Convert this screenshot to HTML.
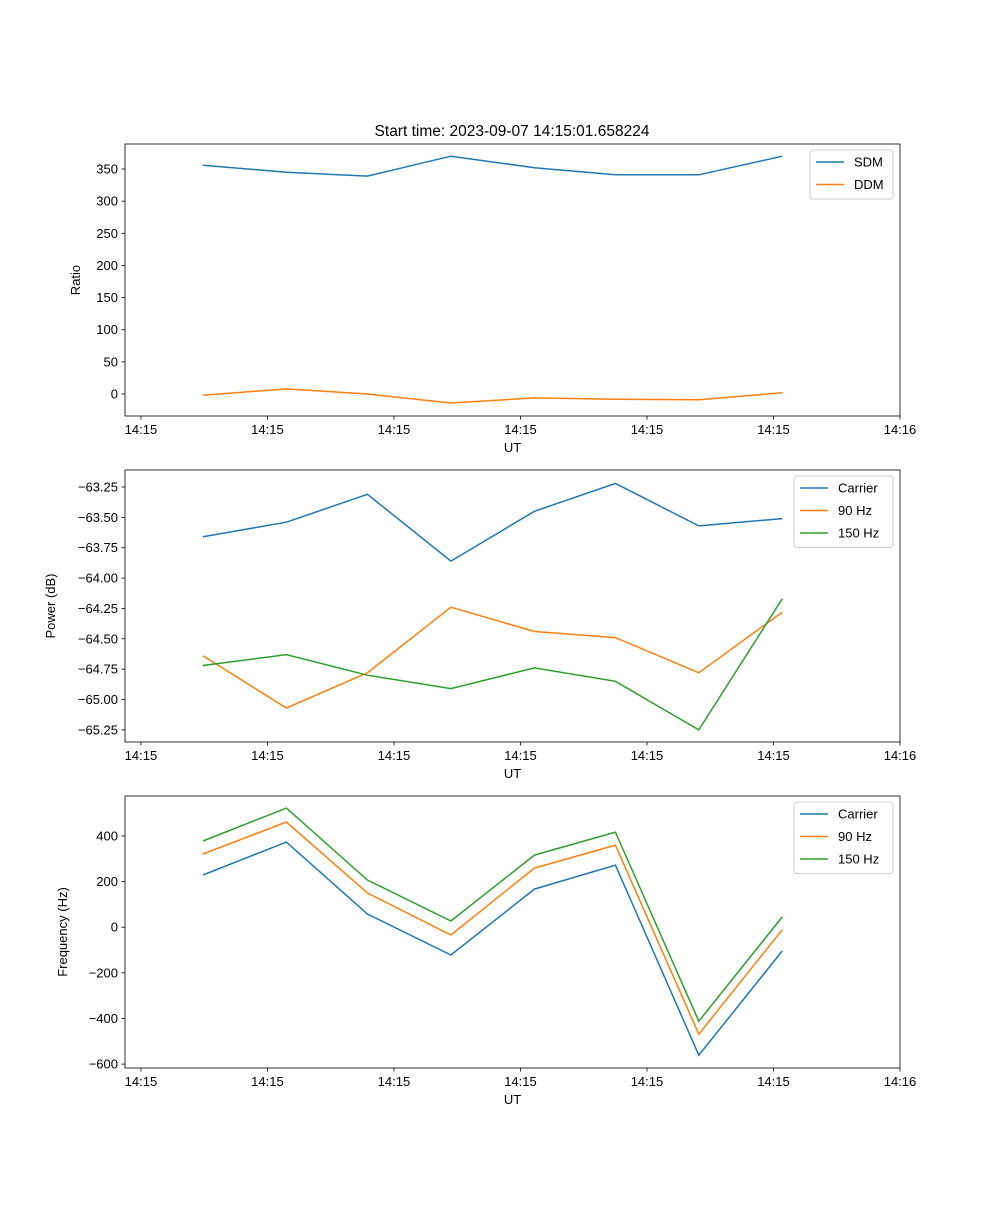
<!DOCTYPE html>
<html><head><meta charset="utf-8"><style>
body{margin:0;background:#fff;}
svg text{font-family:"Liberation Sans","DejaVu Sans",sans-serif;}
</style></head><body>
<svg id="fig" width="1000" height="1200" xmlns="http://www.w3.org/2000/svg">
<rect width="1000" height="1200" fill="#fff"/>
<text x="512" y="136" font-size="15.5" text-anchor="middle">Start time: 2023-09-07 14:15:01.658224</text>
</svg>
<script>
// time offsets in seconds from 14:15:00
const times = [4.9, 11.5, 17.9, 24.5, 31.1, 37.5, 44.1, 50.7];
const xTickValues = [0, 10, 20, 30, 40, 50, 60];
const xTickLabels = ["14:15","14:15","14:15","14:15","14:15","14:15","14:16"];
const sdm = [356, 345, 339, 370, 352, 341, 341, 370];
const ddm = [-2, 8, 0, -14, -6, -8, -9, 2];
const powCarrier = [-63.66, -63.54, -63.31, -63.86, -63.45, -63.22, -63.57, -63.51];
const pow90 = [-64.64, -65.07, -64.78, -64.24, -64.44, -64.49, -64.78, -64.28];
const pow150 = [-64.72, -64.63, -64.80, -64.91, -64.74, -64.85, -65.25, -64.17];
const freqCarrier = [229, 373, 58, -122, 167, 272, -561, -104];
const freq90 = [321, 461, 150, -34, 259, 360, -469, -11];
const freq150 = [378, 522, 207, 27, 316, 417, -412, 45];
const ratioTicks = [0,50,100,150,200,250,300,350];
const powerTicks = [-65.25,-65.0,-64.75,-64.5,-64.25,-64.0,-63.75,-63.5,-63.25];
const freqTicks = [-600,-400,-200,0,200,400];

const NS="http://www.w3.org/2000/svg";
const svg=document.getElementById('fig');
function el(tag,attrs,parent){const e=document.createElementNS(NS,tag);for(const k in attrs)e.setAttribute(k,attrs[k]);(parent||svg).appendChild(e);return e;}
const L=125,R=900;
const xMin=-1.26,xMax=60;
function xs(t){return L+(t-xMin)/(xMax-xMin)*(R-L);}
const C={b:'#1f77b4',o:'#ff7f0e',g:'#2ca02c'};

function panel(name,top,bot,yMin,yMax,yTicks,fmt,ylabel,ylabelX,series,leg){
  const g=el('g',{});
  
  
  const ys=v=>bot-(v-yMin)/(yMax-yMin)*(bot-top);
  series.forEach(s=>{
    const p=el('polyline',{points:s.data.map((v,i)=>xs(times[i]).toFixed(1)+','+ys(v).toFixed(1)).join(' '),fill:'none',stroke:s.c,'stroke-width':1.5},g);
    
    
  });
  const fr=el('rect',{x:L,y:top,width:R-L,height:bot-top,fill:'none',stroke:'#000','stroke-width':0.8},g);
  
  
  xTickValues.forEach((t,i)=>{
    const x=xs(t);
    el('line',{x1:x,x2:x,y1:bot,y2:bot+3.5,stroke:'#000','stroke-width':0.8},g);
    const tx=el('text',{x:x,y:bot+18,'font-size':13,'text-anchor':'middle'},g);
    tx.textContent=xTickLabels[i];
    
    
  });
  yTicks.forEach(v=>{
    const y=ys(v);
    el('line',{x1:L-3.5,x2:L,y1:y,y2:y,stroke:'#000','stroke-width':0.8},g);
    const tx=el('text',{x:L-7,y:y+4.5,'font-size':13,'text-anchor':'end'},g);
    tx.textContent=fmt(v);
    
    
  });
  const xl=el('text',{x:(L+R)/2,y:bot+36,'font-size':13,'text-anchor':'middle'},g);
  xl.textContent='UT';
  
  
  const cy=(top+bot)/2;
  const yl=el('text',{x:ylabelX,y:cy,'font-size':13,'text-anchor':'middle',transform:'rotate(-90 '+ylabelX+' '+cy+')'},g);
  yl.textContent=ylabel;
  
  
  const lg=el('g',{},g);
  
  
  el('rect',{x:leg.x,y:top+6,width:leg.w,height:series.length*22.5+4,fill:'#fff',stroke:'#ccc','stroke-width':1,rx:3},lg);
  series.forEach((s,i)=>{
    const y=top+18+i*22.5;
    el('line',{x1:leg.x+6,x2:leg.x+34,y1:y,y2:y,stroke:s.c,'stroke-width':1.5},lg);
    const t=el('text',{x:leg.x+44,y:y+4.5,'font-size':13},lg);
    t.textContent=s.label;
    
    
  });
}
panel('ratio',144,416,-34.2,388.9,ratioTicks,v=>String(v),'Ratio',80,
  [{id:'sdm',label:'SDM',data:sdm,c:C.b},{id:'ddm',label:'DDM',data:ddm,c:C.o}],{x:810,w:83});
panel('power',470,742,-65.35,-63.11,powerTicks,v=>'\u2212'+Math.abs(v).toFixed(2),'Power (dB)',55,
  [{id:'carrier',label:'Carrier',data:powCarrier,c:C.b},{id:'90hz',label:'90 Hz',data:pow90,c:C.o},{id:'150hz',label:'150 Hz',data:pow150,c:C.g}],{x:794,w:99});
panel('frequency',796,1068,-617,575,freqTicks,v=>v<0?'\u2212'+Math.abs(v):String(v),'Frequency (Hz)',67,
  [{id:'carrier',label:'Carrier',data:freqCarrier,c:C.b},{id:'90hz',label:'90 Hz',data:freq90,c:C.o},{id:'150hz',label:'150 Hz',data:freq150,c:C.g}],{x:794,w:99});
</script>
</body></html>
